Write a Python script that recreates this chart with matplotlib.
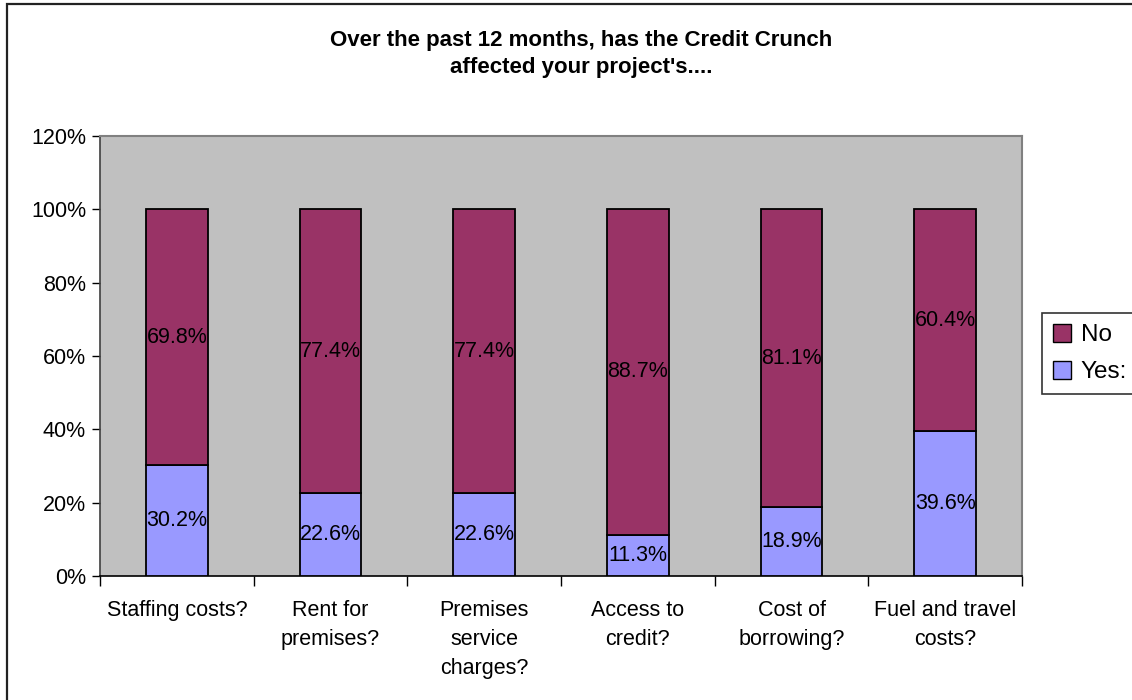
import matplotlib

matplotlib.use("Agg")
import matplotlib.pyplot as plt
import numpy as np
from matplotlib.patches import Patch, Rectangle
from matplotlib.ticker import FuncFormatter

plt.rcParams["font.family"] = ["Liberation Sans", "DejaVu Sans"]

categories = [
    "Staffing costs?",
    "Rent for\npremises?",
    "Premises\nservice\ncharges?",
    "Access to\ncredit?",
    "Cost of\nborrowing?",
    "Fuel and travel\ncosts?",
]
yes_pct = [30.2, 22.6, 22.6, 11.3, 18.9, 39.6]
no_pct = [69.8, 77.4, 77.4, 88.7, 81.1, 60.4]
y_ticks = [0, 20, 40, 60, 80, 100, 120]

YES_COLOR = "#9999FF"
NO_COLOR = "#993366"
PLOT_BG = "#C0C0C0"

W, H = 1132, 700
fig = plt.figure(figsize=(W / 100, H / 100), dpi=100)
ax = fig.add_axes([100 / W, 1 - 576 / H, 922 / W, 440 / H])
ax.set_facecolor(PLOT_BG)

x = np.arange(len(categories))
bar_w = 0.40
yes_bars = ax.bar(x, yes_pct, width=bar_w, color=YES_COLOR, edgecolor="black", linewidth=1.3, zorder=3)
no_bars = ax.bar(x, no_pct, width=bar_w, bottom=yes_pct, color=NO_COLOR, edgecolor="black", linewidth=1.3, zorder=3)

for bar, val in zip(yes_bars, yes_pct):
    ax.text(bar.get_x() + bar.get_width() / 2, val / 2, f"{val:.1f}%",
            ha="center", va="center", fontsize=15.5, color="black", zorder=4)
for bar, base, val in zip(no_bars, yes_pct, no_pct):
    ax.text(bar.get_x() + bar.get_width() / 2, base + val / 2, f"{val:.1f}%",
            ha="center", va="center", fontsize=15.5, color="black", zorder=4)

ax.set_xlim(-0.5, len(categories) - 0.5)
ax.set_ylim(0, 120)
ax.set_yticks(y_ticks)
ax.yaxis.set_major_formatter(FuncFormatter(lambda v, _: f"{v:.0f}%"))
ax.tick_params(axis="y", labelsize=15.5, length=6, width=1, color="black", pad=4)

# category labels sit between the boundary ticks
ax.set_xticks(x)
ax.set_xticklabels(categories, fontsize=15.5, linespacing=1.5, va="top")
ax.tick_params(axis="x", length=0, pad=17)
ax.set_xticks(np.arange(len(categories) + 1) - 0.5, minor=True)
ax.tick_params(axis="x", which="minor", length=7, width=1, color="black", direction="out")

for side in ("top", "right"):
    ax.spines[side].set_color("#808080")
    ax.spines[side].set_linewidth(1.5)
ax.spines["left"].set_color("#404040")
ax.spines["bottom"].set_color("black")
ax.spines["left"].set_linewidth(1.2)
ax.spines["bottom"].set_linewidth(1.2)

fig.text(581 / W, 1 - 54 / H, "Over the past 12 months, has the Credit Crunch\naffected your project's....",
         ha="center", va="center", fontsize=16, fontweight="bold", linespacing=1.4)

handles = [Patch(facecolor=NO_COLOR, edgecolor="black", label="No"),
           Patch(facecolor=YES_COLOR, edgecolor="black", label="Yes:")]
leg = fig.legend(handles=handles, loc="upper left", bbox_to_anchor=(1042 / W, 1 - 313 / H),
                 fontsize=17.5, frameon=True, fancybox=False, handlelength=0.75, handleheight=0.75,
                 handletextpad=0.4, borderpad=0.45, labelspacing=0.6, borderaxespad=0)
leg.get_frame().set_edgecolor("black")
leg.get_frame().set_linewidth(1.2)

# chart frame running off the right and bottom edges
fig.patches.append(Rectangle((6.5 / W, -0.1), 1.2, 1 - 3.5 / H + 0.1, transform=fig.transFigure,
                             fill=False, edgecolor="#222222", linewidth=1.6))

fig.savefig("out.png", dpi=100)
